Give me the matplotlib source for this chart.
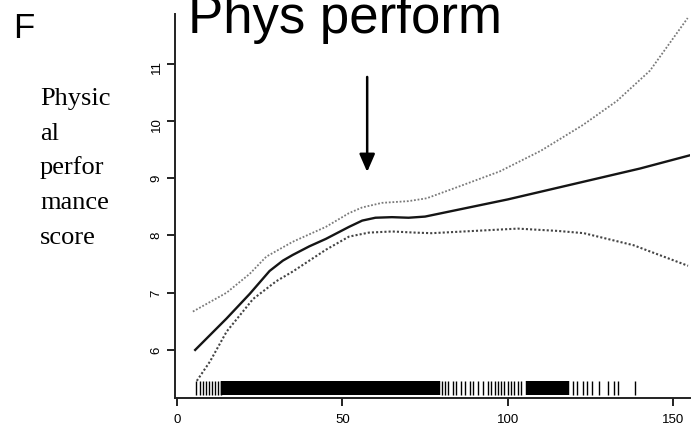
import numpy as np
import matplotlib.pyplot as plt

# smooth fit (solid) and its confidence band (dotted)
fit_x = [5.5, 15, 22, 28, 32, 35, 40, 45, 52, 56, 60, 65, 70, 75, 85, 100, 120, 140, 155]
fit_y = [6.0, 6.55, 6.98, 7.38, 7.56, 7.66, 7.81, 7.94, 8.15, 8.26, 8.31, 8.32, 8.31, 8.33, 8.45, 8.63, 8.9, 9.17, 9.4]

upper_x = [4.8, 15, 22, 27, 35, 45, 52, 56, 62, 70, 75.5, 85, 97.6, 110, 122.7, 133, 143, 154.4]
upper_y = [6.67, 7.0, 7.33, 7.63, 7.89, 8.15, 8.39, 8.49, 8.57, 8.6, 8.65, 8.85, 9.12, 9.48, 9.93, 10.35, 10.88, 11.8]

lower_x = [6, 10, 15, 23, 30, 35, 45, 52, 58, 65, 72, 77, 90, 103, 115, 123, 138, 154.5]
lower_y = [5.46, 5.8, 6.32, 6.89, 7.2, 7.37, 7.75, 7.98, 8.05, 8.07, 8.05, 8.04, 8.08, 8.12, 8.08, 8.04, 7.83, 7.47]

# rug of observations
rug_dense = [14, 15, 16, 17, 18, 19, 20, 21, 22, 23, 24, 25, 26, 27, 28, 29, 30, 31, 32, 33,
             34, 35, 36, 37, 38, 39, 40, 41, 42, 43, 44, 45, 46, 47, 48, 49, 50, 51, 52, 53,
             54, 55, 56, 57, 58, 59, 60, 61, 62, 63, 64, 65, 66, 67, 68, 69, 70, 71, 72, 73,
             74, 75, 76, 77, 78, 79, 106, 107, 108, 109, 110, 111, 112, 113, 114, 115, 116, 117, 118]
rug_sparse = [5.7, 7, 8, 8.7, 9.6, 10.5, 11.5, 12.5, 13.3,
              80, 81, 82, 83.5, 84.5, 86, 87, 88.5, 89.5, 91, 92.5, 94, 95, 96, 97, 98, 99,
              100, 101, 102, 103, 104, 119.8, 121, 122.8, 124, 125.5, 127.6, 130.3, 132.1,
              133.4, 138.5]

xticks = [0, 50, 100, 150]
yticks = [6, 7, 8, 9, 10, 11]
ylabel_lines = ['Physic', 'al', 'perfor', 'mance', 'score']

fig = plt.figure(figsize=(6.92, 4.35), dpi=100)
ax = fig.add_axes([175/692, 1-399/435, 515/692, 384/435])

ax.plot(upper_x, upper_y, color='#7a7a7a', lw=1.3, linestyle=(0, (1, 1)))
ax.plot(lower_x, lower_y, color='#444444', lw=1.5, linestyle=(0, (1, 1)))
ax.plot(fit_x, fit_y, color='#151515', lw=1.7)

tr = ax.get_xaxis_transform()
ax.vlines(rug_dense, 0.008, 0.044, transform=tr, color='black', lw=3.2)
ax.vlines(rug_sparse, 0.008, 0.044, transform=tr, color='black', lw=1.0)

ax.set_xlim(-0.6, 155.1)
ax.set_ylim(5.16, 11.87)
ax.set_xticks(xticks)
ax.set_yticks(yticks)
ax.spines['top'].set_visible(False)
ax.spines['right'].set_visible(False)
for s in ['left', 'bottom']:
    ax.spines[s].set_linewidth(1.4)
    ax.spines[s].set_color('#222222')
ax.tick_params(length=6, width=1.4, color='#222222', labelsize=9.5, pad=5)
ax.tick_params(axis='y', labelrotation=90, pad=3)
for lab in ax.get_xticklabels() + ax.get_yticklabels():
    lab.set_family('Liberation Sans')

# arrow pointing at the bend
ax.annotate('', xy=(57.5, 9.11), xytext=(57.5, 10.77),
            arrowprops=dict(arrowstyle='-|>,head_length=0.54,head_width=0.235',
                            mutation_scale=20, lw=1.8, color='black',
                            shrinkA=0, shrinkB=0))

fig.text(13/692, 1-38/435, 'F', family='Liberation Sans', fontsize=25, va='baseline')
fig.text(188/692, 1-33/435, 'Phys perform', family='Liberation Sans', fontsize=38, va='baseline')

base = [105, 140, 174, 209, 244]
for t, b in zip(ylabel_lines, base):
    fig.text(40/692, 1-b/435, t, family='Liberation Serif', fontsize=19, va='baseline')

fig.savefig('out.png', dpi=100)
